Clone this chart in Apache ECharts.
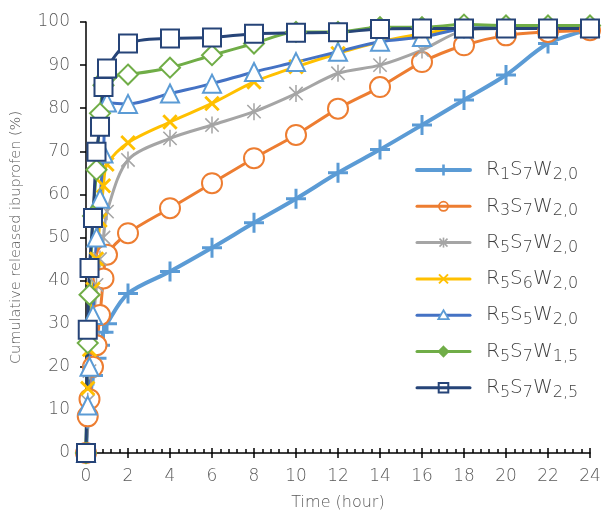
<!DOCTYPE html>
<html><head><meta charset="utf-8">
<script src="https://cdn.jsdelivr.net/npm/echarts@6/dist/echarts.min.js"></script>
<style>html,body{margin:0;padding:0;background:#fff}#c{width:609px;height:518px}</style>
</head><body><div id="c"></div>
<script>
// time points (hours)
const times = [0, 0.083, 0.167, 0.333, 0.5, 0.667, 0.833, 1, 2, 4, 6, 8, 10, 12, 14, 16, 18, 20, 22, 24];
const seriesNames = ['R1S7W2,0', 'R3S7W2,0', 'R5S7W2,0', 'R5S6W2,0', 'R5S5W2,0', 'R5S7W1,5', 'R5S7W2,5'];
const r1s7w20 = [0, 8, 12, 18, 22, 25, 28, 30, 37, 42.1, 47.6, 53.4, 59.0, 65.0, 70.4, 76.1, 81.9, 87.7, 95.0, 98.3];
const r3s7w20 = [0, 8.5, 12.5, 20, 25, 32, 40.5, 46, 51, 56.8, 62.6, 68.4, 73.8, 79.9, 84.9, 90.7, 94.6, 96.9, 97.7, 98.1];
const r5s7w20 = [0, 12, 19, 29, 39, 45, 50, 56, 68, 73.0, 76.1, 79.2, 83.4, 88.1, 90.0, 93.5, 98.0, 98.5, 98.5, 98.5];
const r5s6w20 = [0, 15, 24, 38, 45, 54, 62, 67, 72, 76.8, 81.1, 86.1, 89.6, 92.7, 95.4, 97.3, 98.5, 98.5, 98.5, 98.5];
const r5s5w20 = [0, 11, 20, 32, 50, 59, 69.5, 81.3, 81, 83.4, 85.7, 88.4, 90.7, 93.1, 95.4, 96.5, 98.5, 98.8, 98.8, 98.8];
const r5s7w15 = [0, 25.5, 36.7, 55, 65.7, 78.8, 85.3, 87.3, 87.8, 89.4, 92.3, 95.0, 97.7, 97.7, 98.8, 98.8, 99.4, 99.2, 99.2, 99.2];
const r5s7w25 = [0, 28.6, 42.9, 54.5, 69.9, 75.7, 84.9, 89.2, 95.0, 96.2, 96.4, 97.3, 97.5, 97.6, 98.4, 98.5, 98.5, 98.5, 98.5, 98.5];
const xTicks = [0, 2, 4, 6, 8, 10, 12, 14, 16, 18, 20, 22, 24];
const yTicks = [0, 10, 20, 30, 40, 50, 60, 70, 80, 90, 100];

const FONT = '"DejaVu Sans", sans-serif';
const FW = 200;
const TXT = '#595959';
const LEG = '#404040';
const PLUS = 'path://M8.5,0H11.5V8.5H20V11.5H11.5V20H8.5V11.5H0V8.5H8.5Z';
const STAR = 'path://M9.1,0H10.9V20H9.1Z M1.5,2.8L2.8,1.5L18.5,17.2L17.2,18.5Z M17.2,1.5L18.5,2.8L2.8,18.5L1.5,17.2Z';

function pairs(v){ return times.map((t,i)=>[t, v[i]]); }

const allData = [r1s7w20, r3s7w20, r5s7w20, r5s6w20, r5s5w20, r5s7w15, r5s7w25];
const styles = [
  {line:'#5B9BD5', mk:'#5B9BD5', lw:4, symbol:PLUS, size:20, hollow:false, icon:'plus'},
  {line:'#ED7D31', mk:'#ED7D31', lw:3, symbol:'circle', size:20, hollow:true, icon:'circle'},
  {line:'#A5A5A5', mk:'#A5A5A5', lw:3, symbol:STAR, size:17, hollow:false, icon:'star'},
  {line:'#FFC000', mk:'#FFC000', lw:3, symbol:PLUS, size:19, hollow:false, rot:45, icon:'cross'},
  {line:'#4472C4', mk:'#5B9BD5', lw:3, symbol:'triangle', size:18, hollow:true, icon:'triangle'},
  {line:'#70AD47', mk:'#70AD47', lw:3, symbol:'diamond', size:20, hollow:true, icon:'diamond'},
  {line:'#264478', mk:'#264478', lw:3, symbol:'rect', size:18, hollow:true, icon:'rect'}
];

const series = seriesNames.map((n,i)=>{
  const s = styles[i];
  return {
    name: n, type:'line', xAxisIndex:0, yAxisIndex:0,
    data: pairs(allData[i]),
    smooth: 0.3,
    symbol: s.symbol, symbolSize: s.size, symbolRotate: s.rot || 0, symbolKeepAspect: true,
    showAllSymbol: true,
    lineStyle: {color: s.line, width: s.lw},
    itemStyle: s.hollow ? {color:'#fff', borderColor: s.mk, borderWidth: 2} : {color: s.mk, borderWidth:0},
    emphasis: {disabled:true},
    animation:false
  };
});

// hand-built legend (line + small marker + subscripted label)
const LX1 = 417, LX2 = 470, LTX = 486, LY0 = 170, LDY = 36.3;
const MX = (LX1 + LX2) / 2;
function seg(x1,y1,x2,y2,color,w){
  return {type:'line', silent:true, z:100, shape:{x1:x1,y1:y1,x2:x2,y2:y2}, style:{stroke:color, lineWidth:w}};
}
function legendMarker(s, y){
  const c = s.mk;
  switch(s.icon){
    case 'plus': return [seg(MX, y-5.5, MX, y+5.5, c, 2.6)];
    case 'circle': return [{type:'circle', silent:true, z:100, shape:{cx:MX, cy:y, r:4.6}, style:{stroke:c, lineWidth:1.8, fill:null}}];
    case 'star': return [seg(MX, y-5, MX, y+5, c, 1.6), seg(MX-4, y-4, MX+4, y+4, c, 1.6), seg(MX+4, y-4, MX-4, y+4, c, 1.6)];
    case 'cross': return [seg(MX-4.5, y-4.5, MX+4.5, y+4.5, c, 2), seg(MX+4.5, y-4.5, MX-4.5, y+4.5, c, 2)];
    case 'triangle': return [{type:'polygon', silent:true, z:100, shape:{points:[[MX, y-5],[MX+5.2, y+4],[MX-5.2, y+4]]}, style:{stroke:c, lineWidth:1.8, fill:'#fff'}}];
    case 'diamond': return [{type:'polygon', silent:true, z:100, shape:{points:[[MX, y-5],[MX+5, y],[MX, y+5],[MX-5, y]]}, style:{stroke:c, lineWidth:1.6, fill:c}}];
    default: return [{type:'rect', silent:true, z:100, shape:{x:MX-4.8, y:y-4.8, width:9.6, height:9.6}, style:{stroke:c, lineWidth:2, fill:null}}];
  }
}
const legendGraphics = [];
seriesNames.forEach((n,i)=>{
  const s = styles[i];
  const y = LY0 + LDY * i;
  legendGraphics.push({type:'line', silent:true, z:99, shape:{x1:LX1, y1:y, x2:LX2, y2:y}, style:{stroke:s.line, lineWidth:s.lw, lineCap:'round'}});
  legendMarker(s, y).forEach(g => legendGraphics.push(g));
  legendGraphics.push({
    type:'text', silent:true, z:100, x:LTX, y:y,
    style:{
      text: n.replace(/([RSW])([0-9,]+)/g, '{m|$1}{s|$2}'),
      verticalAlign:'middle', align:'left', fill:LEG, fontFamily:FONT, fontWeight:FW,
      rich:{
        m:{fontSize:20, fontFamily:FONT, fontWeight:FW, fill:LEG, lineHeight:26, verticalAlign:'middle'},
        s:{fontSize:16, fontFamily:FONT, fontWeight:FW, fill:LEG, lineHeight:16, verticalAlign:'bottom'}
      }
    }
  });
});

const chart = echarts.init(document.getElementById('c'), null, {renderer:'canvas'});
chart.setOption({
  animation:false,
  grid:{left:86, right:19, top:22, bottom:65},
  legend:{show:false, data: seriesNames},
  graphic: legendGraphics,
  xAxis:[{
    type:'value', min:0, max:24, interval:2,
    name:'Time (hour)', nameLocation:'middle', nameGap:42,
    nameTextStyle:{fontSize:16, color:TXT, fontFamily:FONT, fontWeight:FW},
    axisLine:{onZero:false, lineStyle:{color:'#000', width:1.5}},
    axisTick:{inside:true, length:5, lineStyle:{color:'#000', width:1.5}},
    minorTick:{show:true, splitNumber:5, length:4, lineStyle:{color:'#000', width:1.5}},
    splitLine:{show:false},
    axisLabel:{fontSize:17, color:TXT, fontFamily:FONT, fontWeight:FW, margin:15,
      formatter: function(v){ return xTicks.indexOf(v) >= 0 ? String(v) : ''; }}
  },{
    type:'value', min:0, max:24, interval:2, position:'bottom',
    axisLine:{show:false},
    axisTick:{inside:false, length:5, lineStyle:{color:'#000', width:1.5}},
    splitLine:{show:false}, axisLabel:{show:false}
  }],
  yAxis:{
    type:'value', min:0, max:100, interval:10,
    name:'Cumulative released ibuprofen (%)', nameLocation:'middle', nameGap:62,
    nameTextStyle:{fontSize:14.5, color:TXT, fontFamily:FONT, fontWeight:FW},
    axisLine:{show:true, lineStyle:{color:'#000', width:1.5}},
    axisTick:{show:true, inside:false, length:6, lineStyle:{color:'#000', width:1.5}},
    splitLine:{show:false},
    axisLabel:{fontSize:17, color:TXT, fontFamily:FONT, fontWeight:FW, margin:16,
      formatter: function(v){ return yTicks.indexOf(v) >= 0 ? String(v) : ''; }}
  },
  series: series
});
</script></body></html>
